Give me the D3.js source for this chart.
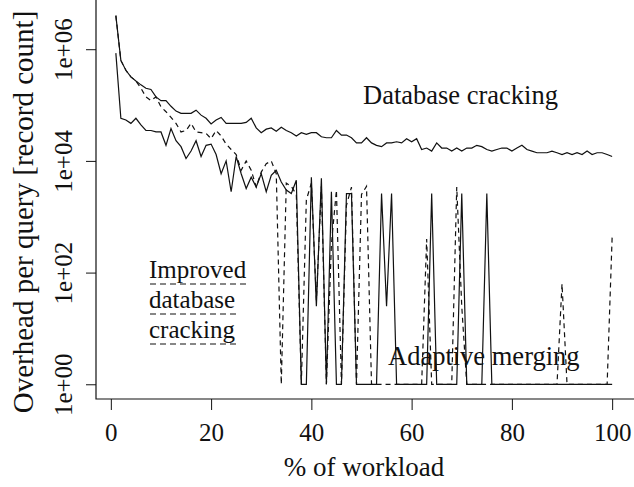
<!DOCTYPE html>
<html>
<head>
<meta charset="utf-8">
<script src="https://cdn.jsdelivr.net/npm/d3@7"></script>
<style>
body { margin: 0; background: #fff; }
svg { display: block; }
text { font-family: "Liberation Serif", "Times New Roman", serif; fill: #111; }
</style>
</head>
<body>
<svg id="chart" width="634" height="487"></svg>
<script>
// % of workload (one point per percent)
var workload = d3.range(1, 101);

// overhead per query, 1 = nothing left to do
var dbCracking = [4.0e6,6.3e5,4.2e5,3.2e5,2.7e5,2.3e5,2.0e5,1.9e5,1.4e5,1.2e5,
  1.2e5,9.5e4,7.8e4,7.1e4,7.1e4,7.1e4,8.1e4,6.6e4,5.8e4,4.6e4,
  5.4e4,6.0e4,4.7e4,4.7e4,4.7e4,4.7e4,4.9e4,5.8e4,3.9e4,3.2e4,
  3.7e4,3.9e4,3.4e4,4.0e4,3.5e4,3.2e4,2.8e4,3.2e4,3.0e4,3.2e4,
  3.2e4,2.7e4,2.6e4,2.6e4,3.5e4,2.9e4,2.9e4,2.6e4,2.1e4,2.1e4,
  2.6e4,2.1e4,1.9e4,1.8e4,2.1e4,2.1e4,2.2e4,2.1e4,2.5e4,2.2e4,
  2.5e4,1.6e4,1.7e4,1.5e4,2.1e4,1.7e4,1.7e4,1.5e4,1.7e4,1.5e4,
  1.7e4,1.7e4,1.9e4,1.8e4,1.6e4,1.5e4,1.6e4,1.7e4,1.7e4,1.5e4,
  1.7e4,1.9e4,1.6e4,1.5e4,1.4e4,1.4e4,1.4e4,1.5e4,1.4e4,1.3e4,
  1.4e4,1.3e4,1.4e4,1.3e4,1.5e4,1.3e4,1.4e4,1.4e4,1.3e4,1.2e4];

var improvedCracking = [4.0e6,6.3e5,4.2e5,3.2e5,2.7e5,2.0e5,1.4e5,1.2e5,1.4e5,9.3e4,
  7.6e4,6.0e4,4.7e4,3.3e4,3.5e4,4.7e4,3.3e4,3.2e4,3.1e4,2.5e4,
  3.5e4,2.8e4,2.0e4,1.6e4,1.3e4,6.8e3,1.0e4,6.8e3,3.4e3,6.3e3,
  8.9e3,1.0e4,5.9e3,1,4.0e3,3.5e3,2.5e3,1,2.0e3,4.0e3,
  32,3.5e3,1,320,3.0e3,1,1.6e3,3.4e3,1,2.5e3,
  3.5e3,1,1,1,1,1,1,1,1,1,
  1,1,400,1,1,1,1,1,3.4e3,25,
  1,1,1,1,1,1,1,1,1,1,
  1,1,1,1,1,1,1,1,1,63,
  1,1,1,1,1,1,1,1,1,440];

var adaptiveMerging = [8.5e5,5.8e4,5.4e4,4.7e4,5.8e4,4.4e4,3.5e4,3.5e4,3.3e4,3.3e4,
  1.9e4,3.8e4,2.3e4,1.8e4,1.1e4,1.5e4,2.3e4,1.2e4,1.9e4,2.0e4,
  1.3e4,5.9e3,1.0e4,2.8e3,1.2e4,5.9e3,3.2e3,5.1e3,3.4e3,5.9e3,
  2.8e3,5.5e3,6.8e3,4.2e3,3.0e3,2.6e3,4.5e3,1,1,5.1e3,
  25,4.9e3,1,2.8e3,1,1,2.6e3,2.6e3,1,1,
  1,1,1,2.6e3,25,2.6e3,1,1,1,1,
  1,1,1,2.6e3,1,1,1,1,1,2.6e3,
  1,1,1,1,2.6e3,1,1,1,1,1,
  1,1,1,1,1,1,1,1,1,1,
  1,1,1,1,1,1,1,1,1,1];

var xTicks = [0, 20, 40, 60, 80, 100];
var yTicks = [1, 1e2, 1e4, 1e6];
var yTickLabels = ["1e+00", "1e+02", "1e+04", "1e+06"];

var serif = '"Liberation Serif", "Times New Roman", serif';
var svg = d3.select("#chart");

// plot region (R style, 4% padding)
var x = d3.scaleLinear().domain([-2.96, 103.96]).range([96, 632]);
var y = d3.scaleLog().domain([0.545, 7.3e6]).range([399, 1]);

// y axis
var yAxis = svg.append("g")
  .attr("transform", "translate(96,0)")
  .attr("font-family", serif)
  .call(d3.axisLeft(y).tickValues(yTicks).tickSize(10)
    .tickFormat(function(d, i){ return yTickLabels[i]; }));
yAxis.select(".domain").remove();
yAxis.selectAll("line").attr("stroke", "#111");
yAxis.selectAll("text")
  .attr("x", null).attr("dy", null)
  .attr("transform", "translate(-24,0) rotate(-90)")
  .attr("text-anchor", "middle")
  .attr("font-size", 25);

// x axis
var xAxis = svg.append("g")
  .attr("transform", "translate(0,399)")
  .attr("font-family", serif)
  .call(d3.axisBottom(x).tickValues(xTicks).tickSize(11));
xAxis.select(".domain").remove();
xAxis.selectAll("line").attr("stroke", "#111");
xAxis.selectAll("text")
  .attr("y", 42).attr("dy", null)
  .attr("font-size", 25);

// L shaped box
svg.append("path")
  .attr("d", "M96,0V399H634")
  .attr("fill", "none")
  .attr("stroke", "#111")
  .attr("stroke-width", 1.2);

// axis titles
svg.append("text")
  .attr("transform", "translate(33,212) rotate(-90)")
  .attr("text-anchor", "middle")
  .attr("font-size", 29)
  .text("Overhead per query [record count]");

svg.append("text")
  .attr("x", 364).attr("y", 476)
  .attr("text-anchor", "middle")
  .attr("font-size", 27)
  .text("% of workload");

// the three series
var line = d3.line()
  .x(function(d, i){ return x(workload[i]); })
  .y(function(d){ return y(d); });

svg.append("path").datum(dbCracking)
  .attr("d", line).attr("fill", "none")
  .attr("stroke", "#111").attr("stroke-width", 1.2);

svg.append("path").datum(adaptiveMerging)
  .attr("d", line).attr("fill", "none")
  .attr("stroke", "#111").attr("stroke-width", 1.2);

svg.append("path").datum(improvedCracking)
  .attr("d", line).attr("fill", "none")
  .attr("stroke", "#111").attr("stroke-width", 1.2)
  .attr("stroke-dasharray", "5,4");

// labels on the plot
svg.append("text")
  .attr("x", 363).attr("y", 104)
  .attr("font-size", 26.5)
  .text("Database cracking");

svg.append("text")
  .attr("x", 388).attr("y", 365)
  .attr("font-size", 26.5)
  .text("Adaptive merging");

var improvedWords = ["Improved", "database", "cracking"];
improvedWords.forEach(function(w, i){
  var t = svg.append("text")
    .attr("x", 149).attr("y", 278 + i * 30)
    .attr("font-size", 25)
    .text(w);
  var len = t.node().getComputedTextLength();
  svg.append("line")
    .attr("x1", 150).attr("x2", 150 + len)
    .attr("y1", 284 + i * 30).attr("y2", 284 + i * 30)
    .attr("stroke", "#111").attr("stroke-width", 1.2)
    .attr("stroke-dasharray", "6,4");
});
</script>
</body>
</html>
